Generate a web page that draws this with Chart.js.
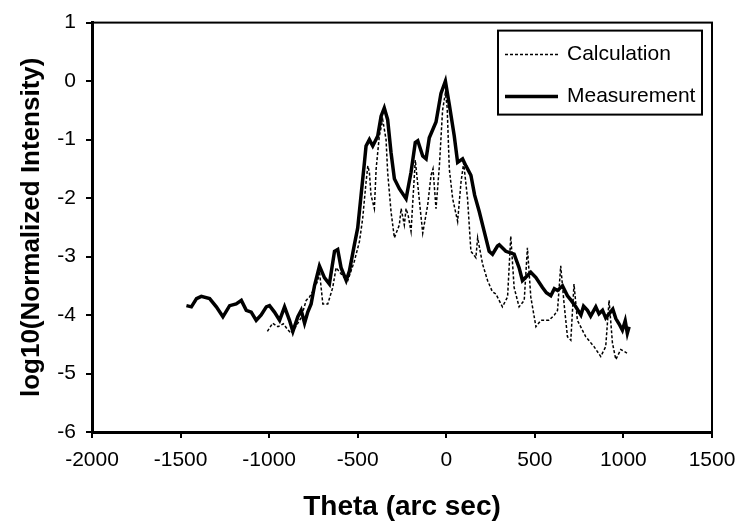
<!DOCTYPE html>
<html>
<head>
<meta charset="utf-8">
<script src="https://cdn.jsdelivr.net/npm/chart.js@4.4.1/dist/chart.umd.min.js"></script>
<style>
  html, body { margin: 0; padding: 0; background: #fff; }
  #wrap { width: 737px; height: 527px; }
</style>
</head>
<body>
<div id="wrap"><canvas id="rockingCurve" width="737" height="527"></canvas></div>
<script>
// values
const measTheta = [-1467, -1439, -1410, -1383, -1336, -1298, -1261, -1223, -1186, -1157,
  -1129, -1101, -1073, -1045, -1016, -998, -970, -941, -913, -885, -866, -838, -819, -800,
  -782, -763, -744, -716, -688, -660, -631, -613, -594, -565, -547, -519, -500, -481, -462,
  -453, -434, -415, -387, -368, -350, -331, -312, -293, -265, -227, -199, -175, -161, -133,
  -114, -96, -58, -30, -5, 17, 45, 64, 92, 111, 139, 160, 186, 214, 242, 261, 289, 299, 336,
  383, 411, 430, 477, 506, 543, 565, 590, 610, 628, 656, 684, 705, 731, 760, 775, 797, 815,
  844, 862, 882, 900, 919, 940, 957, 975, 994, 1010, 1022, 1032];
const measLog = [-3.84, -3.86, -3.72, -3.68, -3.72, -3.86, -4.03, -3.84, -3.81, -3.75,
  -3.92, -3.95, -4.09, -4.00, -3.86, -3.84, -3.95, -4.09, -3.86, -4.09, -4.28, -4.03, -3.92, -4.14,
  -3.95, -3.81, -3.50, -3.16, -3.36, -3.47, -2.91, -2.88, -3.19, -3.41, -3.25, -2.80, -2.51, -1.95, -1.39,
  -1.11, -1.00, -1.11, -0.94, -0.60, -0.46, -0.66, -1.22, -1.67, -1.84, -2.01, -1.56, -1.05, -1.02, -1.28,
  -1.33, -0.97, -0.70, -0.21, 0.00, -0.40, -0.94, -1.39, -1.33, -1.45, -1.61, -1.95, -2.23, -2.57, -2.91, -2.96, -2.82, -2.80, -2.91,
  -2.96, -3.19, -3.41, -3.27, -3.36, -3.53, -3.62, -3.67, -3.55, -3.58, -3.50, -3.67, -3.75, -3.86, -4.00, -3.85, -3.92, -4.02,
  -3.86, -3.98, -3.92, -4.05, -3.98, -3.90, -4.06, -4.15, -4.26, -4.10, -4.31, -4.20];

const calcTheta = [-1010, -980, -950, -920, -895, -876, -850, -820, -791, -772, -745, -725,
  -716, -697, -669, -641, -622, -585, -556, -519, -490, -472, -453, -443, -434, -425, -406,
  -396, -378, -359, -340, -331, -312, -293, -265, -255, -237, -227, -215, -199, -175, -150,
  -133, -105, -86, -75, -58, -39, -21, -5, 5, 17, 36, 64, 83, 98, 120, 139, 167, 177, 205,
  233, 260, 280, 317, 346, 364, 383, 411, 440, 458, 477, 506, 534, 580, 610, 628, 646, 665,
  684, 703, 721, 740, 787, 834, 872, 900, 919, 938, 957, 985, 1020];
const calcLog = [-4.28, -4.14, -4.20, -4.15, -4.25, -4.31, -4.20, -4.05, -3.75, -3.69, -3.55, -3.41,
  -3.25, -3.81, -3.81, -3.53, -3.19, -3.33, -3.41, -3.08, -2.74, -2.35, -1.73, -1.45, -1.56, -1.95, -2.18,
  -1.50, -0.94, -0.66, -1.00, -1.56, -2.23, -2.68, -2.46, -2.18, -2.46, -2.18, -2.30, -2.57, -1.35, -2.10,
  -2.60, -2.12, -1.61, -1.50, -2.18, -1.45, -0.50, -0.20, -0.45, -1.50, -2.01, -2.40, -1.73, -1.40, -2.01, -2.91, -3.02, -2.68, -3.13,
  -3.41, -3.60, -3.64, -3.86, -3.69, -2.65, -3.53, -3.86, -3.75, -2.85, -3.69, -4.20, -4.09, -4.09, -4.00, -3.92, -3.16, -3.81,
  -4.37, -4.43, -3.47, -4.09, -4.37, -4.54, -4.71, -4.54, -3.75, -4.48, -4.76, -4.59, -4.65];

const xTicks = [-2000, -1500, -1000, -500, 0, 500, 1000, 1500];
const yTicks = [-6, -5, -4, -3, -2, -1, 0, 1];

const toPoints = (xs, ys) => xs.map((x, i) => ({ x: x, y: ys[i] }));

const font = 'Liberation Sans, Arial, sans-serif';

// frame round the plot and a boxed legend in the top right corner
const framePlugin = {
  id: 'frame',
  afterDraw(chart) {
    const ctx = chart.ctx;
    const a = chart.chartArea;
    ctx.save();
    ctx.strokeStyle = '#000';
    ctx.lineWidth = 2;
    ctx.strokeRect(a.left, a.top, a.right - a.left, a.bottom - a.top);

    const bx = a.right - 214, by = a.top + 8, bw = 204, bh = 84;
    ctx.fillStyle = '#fff';
    ctx.fillRect(bx, by, bw, bh);
    ctx.lineWidth = 2;
    ctx.strokeRect(bx, by, bw, bh);
    ctx.font = '21px ' + font;
    ctx.textBaseline = 'middle';
    ctx.fillStyle = '#000';
    const rows = [by + 24, by + 66];
    chart.data.datasets.forEach((ds, i) => {
      const y = rows[i];
      ctx.beginPath();
      ctx.setLineDash(ds.borderDash || []);
      ctx.lineWidth = ds.borderWidth;
      ctx.strokeStyle = ds.borderColor;
      ctx.moveTo(bx + 7, y);
      ctx.lineTo(bx + 60, y);
      ctx.stroke();
      ctx.setLineDash([]);
      ctx.fillText(ds.label, bx + 69, y);
    });
    ctx.restore();
  }
};

const ctx = document.getElementById('rockingCurve').getContext('2d');
new Chart(ctx, {
  type: 'scatter',
  data: {
    datasets: [{
      label: 'Calculation',
      data: toPoints(calcTheta, calcLog),
      showLine: true,
      borderColor: '#000',
      borderWidth: 1.5,
      borderDash: [3, 2],
      pointRadius: 0,
      tension: 0
    }, {
      label: 'Measurement',
      data: toPoints(measTheta, measLog),
      showLine: true,
      borderColor: '#000',
      borderWidth: 3.5,
      pointRadius: 0,
      tension: 0
    }]
  },
  options: {
    responsive: false,
    animation: false,
    layout: { padding: { top: 15, right: 25, left: 0, bottom: 0 } },
    plugins: {
      legend: { display: false },
      tooltip: { enabled: false }
    },
    scales: {
      x: {
        type: 'linear',
        min: -2000,
        max: 1500,
        afterBuildTicks: s => { s.ticks = xTicks.map(v => ({ value: v })); },
        afterFit: s => { s.height = 95; s.paddingLeft = 0; s.paddingRight = 0; },
        border: { color: '#000', width: 3 },
        grid: { drawOnChartArea: false, drawTicks: true, tickLength: 6, color: '#000', lineWidth: 2 },
        ticks: { color: '#000', font: { family: font, size: 21 }, padding: 10, maxRotation: 0,
                 callback: v => String(v) },
        title: {
          display: true,
          text: 'Theta (arc sec)',
          color: '#000',
          font: { family: font, size: 28, weight: 'bold' },
          padding: { top: 0, bottom: 3 }
        }
      },
      y: {
        type: 'linear',
        min: -6,
        max: 1,
        afterBuildTicks: s => { s.ticks = yTicks.map(v => ({ value: v })); },
        afterFit: s => { s.width = 92; },
        border: { color: '#000', width: 3 },
        grid: { drawOnChartArea: false, drawTicks: true, tickLength: 6, color: '#000', lineWidth: 2 },
        ticks: { color: '#000', font: { family: font, size: 21 }, padding: 10,
                 callback: v => String(v) },
        title: {
          display: true,
          text: 'log10(Normalized Intensity)',
          color: '#000',
          font: { family: font, size: 26, weight: 'bold' },
          padding: { top: 16, bottom: 0 }
        }
      }
    }
  },
  plugins: [framePlugin]
});
</script>
</body>
</html>
